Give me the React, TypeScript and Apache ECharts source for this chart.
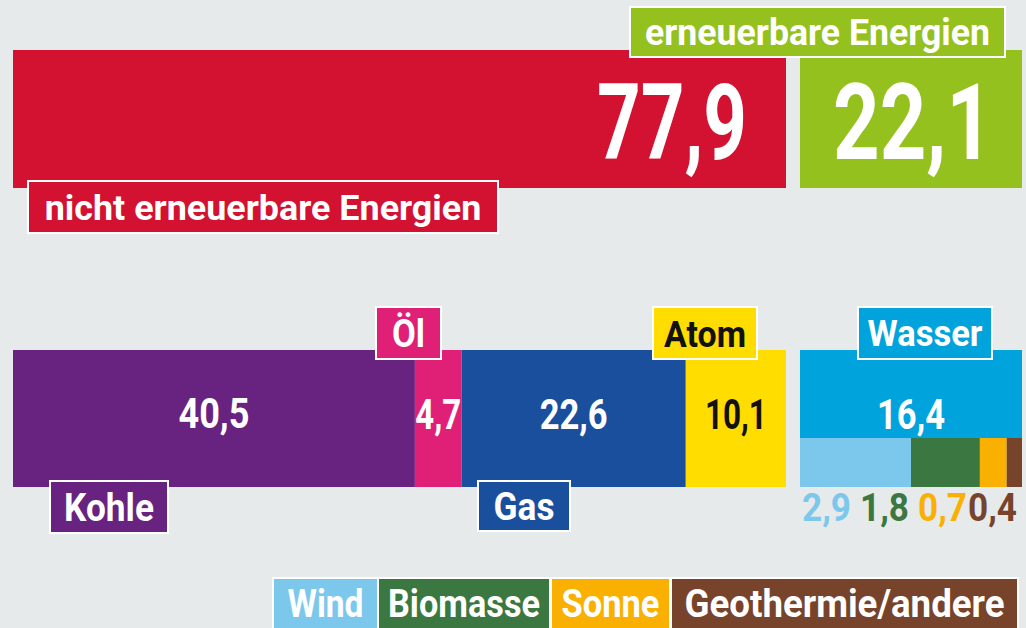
import React, { useEffect, useRef } from "react";
import * as echarts from "echarts";

// ---- data ----
const topCategories = ["nicht erneuerbare Energien", "erneuerbare Energien"];
const topValues = [77.9, 22.1];
const nonRenewCategories = ["Kohle", "Öl", "Gas", "Atom"];
const nonRenewValues = [40.5, 4.7, 22.6, 10.1];
const waterCategories = ["Wasser"];
const waterValues = [16.4];
const otherRenewCategories = ["Wind", "Biomasse", "Sonne", "Geothermie/andere"];
const otherRenewValues = [2.9, 1.8, 0.7, 0.4];

// ---- styles ----
const FONT = "Roboto, 'DejaVu Sans', sans-serif";
const BG = "#e7eaeb";
const topColors = ["#d31130", "#95c11f"];
const nonRenewColors = ["#67237f", "#e01f77", "#1a4f9d", "#ffdd00"];
const nonRenewTextColors = ["#fff", "#fff", "#fff", "#111"];
const waterColors = ["#00a3dc"];
const otherRenewColors = ["#7cc8ec", "#3b7740", "#f9b000", "#77432a"];

const fmt = (v: number) => v.toFixed(1).replace(".", ",");
const sum = (a: number[]) => a.reduce((s, v) => s + v, 0);

// text measuring to fit the condensed look of the original typeface
let measureCtx: CanvasRenderingContext2D | null = null;
function fitScale(text: string, size: number, targetW: number) {
  if (!measureCtx) measureCtx = document.createElement("canvas").getContext("2d");
  if (!measureCtx) return 1;
  measureCtx.font = `bold ${size}px ${FONT}`;
  const w = measureCtx.measureText(text).width;
  return w > 0 ? targetW / w : 1;
}

// ---- layout (boxes: x, y, w, h; text: font size, target width) ----
const topBoxLayout = [
  { x: 28, y: 181, w: 470, h: 52, fs: 35, tw: 437 },
  { x: 630, y: 7, w: 375, h: 50, fs: 36, tw: 345 },
];
const nonRenewBoxLayout = [
  { x: 50, y: 481, w: 118, h: 52, fs: 38, tw: 90 },
  { x: 376, y: 307, w: 65, h: 52, fs: 38, tw: 33 },
  { x: 478, y: 481, w: 92, h: 50, fs: 38, tw: 61 },
  { x: 653, y: 307, w: 104, h: 52, fs: 37, tw: 82 },
];
const waterBoxLayout = [{ x: 858, y: 307, w: 134, h: 52, fs: 37, tw: 115 }];
const legendLayout = [
  { x: 273, y: 578, w: 105, h: 62, fs: 38, tw: 76, ty: 604 },
  { x: 378, y: 578, w: 172, h: 62, fs: 38, tw: 152, ty: 604 },
  { x: 551, y: 578, w: 119, h: 62, fs: 38, tw: 98, ty: 604 },
  { x: 671, y: 578, w: 347, h: 62, fs: 38, tw: 320, ty: 604 },
];
const subLabelX = [802, 860, 918, 968];
const topValueWidths = [150, 160];
const nonRenewValueWidths = [71, 46, 68, 62];
const waterValueWidths = [68];

function box(
  text: string,
  fill: string,
  textColor: string,
  l: { x: number; y: number; w: number; h: number; fs: number; tw: number; ty?: number }
) {
  return {
    type: "group",
    z: 100,
    children: [
      {
        type: "rect",
        z: 100,
        shape: { x: l.x, y: l.y, width: l.w, height: l.h },
        style: { fill, stroke: "#ffffff", lineWidth: 2 },
      },
      {
        type: "text",
        z: 101,
        x: l.x + l.w / 2,
        y: l.ty !== undefined ? l.ty : l.y + l.h / 2 + 1,
        scaleX: fitScale(text, l.fs, l.tw),
        style: {
          text,
          fill: textColor,
          fontSize: l.fs,
          fontWeight: "bold",
          fontFamily: FONT,
          align: "center",
          verticalAlign: "middle",
        },
      },
    ],
  };
}

type LabelItem = {
  anchor: number;
  text: string;
  color: string;
  size: number;
  w: number;
  dx: number;
  dy: number;
  align: string;
};

function labelSeries(gridIndex: number, items: LabelItem[]) {
  const scales = items.map((it) => fitScale(it.text, it.size, it.w));
  return {
    type: "custom",
    xAxisIndex: gridIndex,
    yAxisIndex: gridIndex,
    z: 10,
    silent: true,
    encode: { x: 0, y: 1 },
    data: items.map((it, i) => [it.anchor, 0, i]),
    renderItem: (_params: any, api: any) => {
      const i = api.value(2);
      const it = items[i];
      const p = api.coord([api.value(0), 0]);
      return {
        type: "text",
        x: p[0] + it.dx,
        y: p[1] + it.dy,
        scaleX: scales[i],
        style: {
          text: it.text,
          fill: it.color,
          fontSize: it.size,
          fontWeight: "bold",
          fontFamily: FONT,
          align: it.align,
          verticalAlign: "middle",
        },
      };
    },
  };
}

export default function App() {
  const ref = useRef<HTMLDivElement>(null);

  useEffect(() => {
    document.body.style.margin = "0";
    const chart = echarts.init(ref.current as HTMLDivElement, undefined, { renderer: "svg" });

    const grids = [
      { left: 13, top: 50, width: 773, height: 138 },
      { left: 800, top: 50, width: 222, height: 138 },
      { left: 13, top: 350, width: 773, height: 137 },
      { left: 800, top: 350, width: 222, height: 88 },
      { left: 800, top: 438, width: 222, height: 49 },
    ];
    const maxes = [topValues[0], topValues[1], sum(nonRenewValues), sum(waterValues), sum(otherRenewValues)];

    const series: any[] = [];
    topCategories.forEach((name, i) => {
      series.push({
        type: "bar",
        name,
        xAxisIndex: i,
        yAxisIndex: i,
        data: [topValues[i]],
        barWidth: "100%",
        itemStyle: { color: topColors[i] },
      });
    });
    nonRenewCategories.forEach((name, i) => {
      series.push({
        type: "bar",
        name,
        stack: "nonRenew",
        xAxisIndex: 2,
        yAxisIndex: 2,
        data: [nonRenewValues[i]],
        barWidth: "100%",
        itemStyle: { color: nonRenewColors[i] },
      });
    });
    waterCategories.forEach((name, i) => {
      series.push({
        type: "bar",
        name,
        xAxisIndex: 3,
        yAxisIndex: 3,
        data: [waterValues[i]],
        barWidth: "100%",
        itemStyle: { color: waterColors[i] },
      });
    });
    otherRenewCategories.forEach((name, i) => {
      series.push({
        type: "bar",
        name,
        stack: "otherRenew",
        xAxisIndex: 4,
        yAxisIndex: 4,
        data: [otherRenewValues[i]],
        barWidth: "100%",
        itemStyle: { color: otherRenewColors[i] },
      });
    });

    // value labels
    series.push(
      labelSeries(0, [
        { anchor: topValues[0], text: fmt(topValues[0]), color: "#fff", size: 105, w: topValueWidths[0], dx: -39, dy: 4, align: "right" },
      ])
    );
    series.push(
      labelSeries(1, [
        { anchor: topValues[1] / 2, text: fmt(topValues[1]), color: "#fff", size: 105, w: topValueWidths[1], dx: 2, dy: 4, align: "center" },
      ])
    );
    let cum = 0;
    const nrItems: LabelItem[] = nonRenewValues.map((v, i) => {
      const anchor = cum + v / 2;
      cum += v;
      return { anchor, text: fmt(v), color: nonRenewTextColors[i], size: 42, w: nonRenewValueWidths[i], dx: 0, dy: -4, align: "center" };
    });
    series.push(labelSeries(2, nrItems));
    series.push(
      labelSeries(
        3,
        waterValues.map((v, i) => ({ anchor: v / 2, text: fmt(v), color: "#fff", size: 42, w: waterValueWidths[i], dx: 0, dy: 20, align: "center" }))
      )
    );

    const graphics: any[] = [];
    topCategories.forEach((t, i) => graphics.push(box(t, topColors[i], "#fff", topBoxLayout[i])));
    nonRenewCategories.forEach((t, i) =>
      graphics.push(box(t, nonRenewColors[i], nonRenewTextColors[i], nonRenewBoxLayout[i]))
    );
    waterCategories.forEach((t, i) => graphics.push(box(t, waterColors[i], "#fff", waterBoxLayout[i])));
    otherRenewCategories.forEach((t, i) => graphics.push(box(t, otherRenewColors[i], "#fff", legendLayout[i])));
    otherRenewValues.forEach((v, i) =>
      graphics.push({
        type: "text",
        z: 100,
        x: subLabelX[i],
        y: 508,
        scaleX: fitScale(fmt(v), 38, 49),
        style: {
          text: fmt(v),
          fill: otherRenewColors[i],
          fontSize: 38,
          fontWeight: "bold",
          fontFamily: FONT,
          align: "left",
          verticalAlign: "middle",
        },
      })
    );

    chart.setOption({
      animation: false,
      backgroundColor: BG,
      grid: grids.map((g) => ({ ...g, containLabel: false })),
      xAxis: grids.map((_, i) => ({ type: "value", gridIndex: i, min: 0, max: maxes[i], show: false })),
      yAxis: grids.map((_, i) => ({ type: "category", gridIndex: i, data: ["a"], show: false })),
      series,
      graphic: graphics,
    });

    return () => chart.dispose();
  }, []);

  return <div ref={ref} style={{ width: 1026, height: 628 }} />;
}
